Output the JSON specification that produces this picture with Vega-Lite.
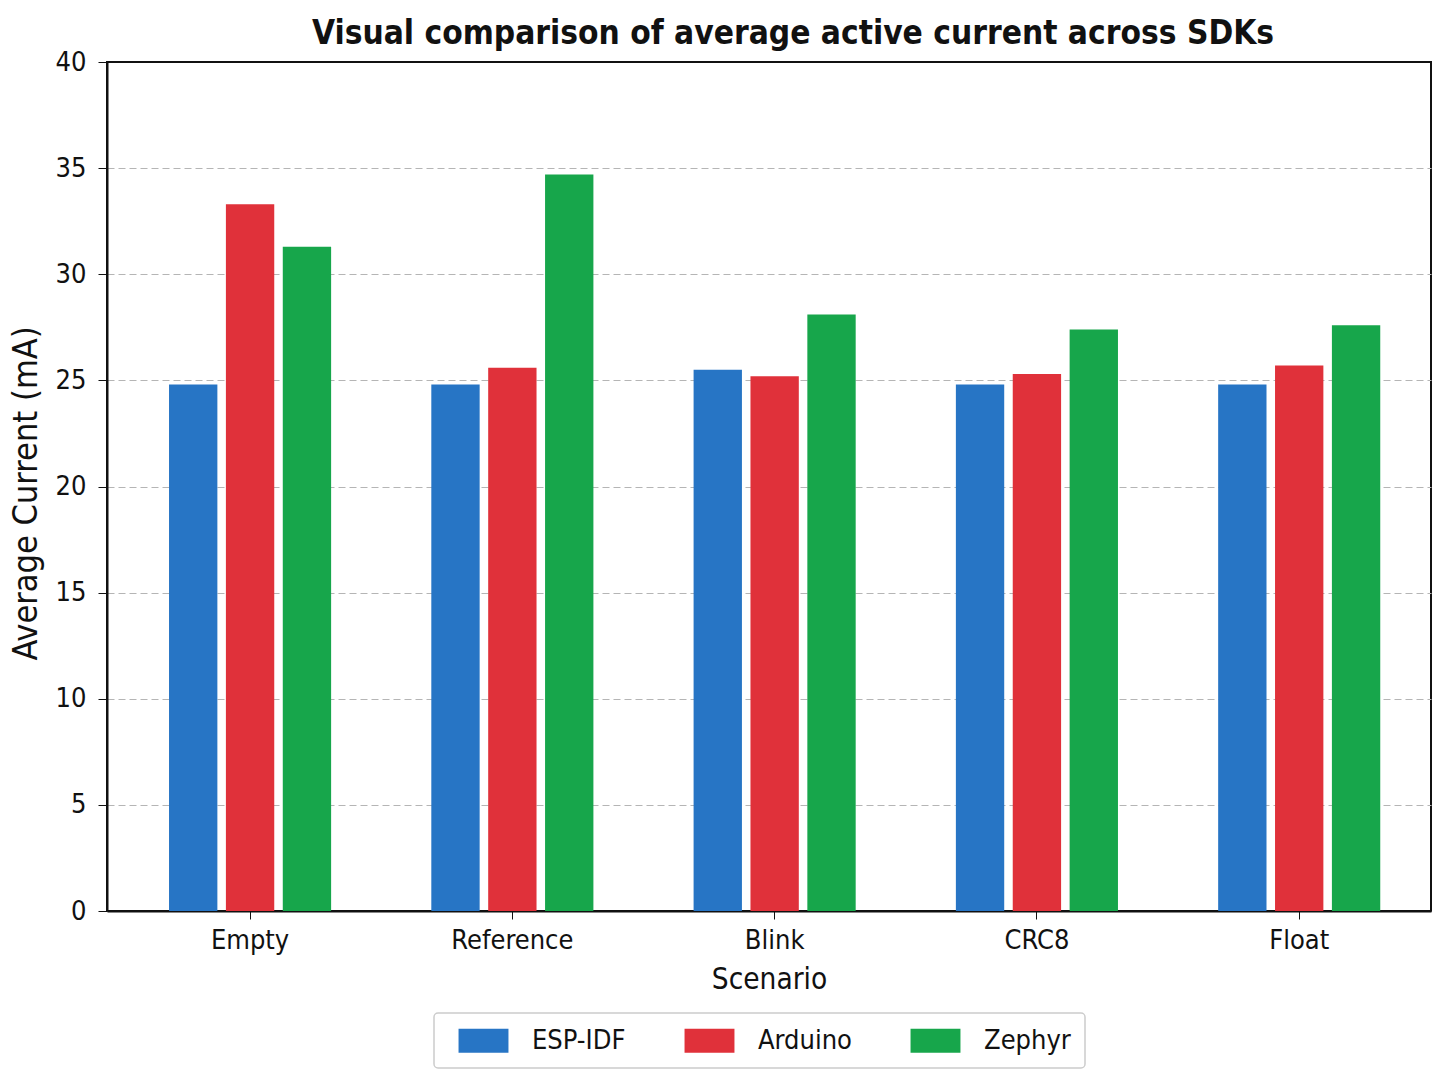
{
  "$schema": "https://vega.github.io/schema/vega-lite/v6.json",
  "autosize": {"type": "none"},
  "padding": {"left": 107, "top": 62, "right": 17, "bottom": 175},
  "width": 1324,
  "height": 849,
  "background": "white",
  "title": {
    "text": "Visual comparison of average active current across SDKs",
    "font": "DejaVu Sans Condensed, Roboto Condensed, Roboto, sans-serif",
    "fontSize": 33.2,
    "fontWeight": "bold",
    "color": "#111111",
    "anchor": "middle",
    "dx": 24,
    "offset": -3
  },
  "data": {
    "values": [
      {"Scenario": "Empty", "SDK": "ESP-IDF", "Current": 24.8},
      {"Scenario": "Empty", "SDK": "Arduino", "Current": 33.3},
      {"Scenario": "Empty", "SDK": "Zephyr", "Current": 31.3},
      {"Scenario": "Reference", "SDK": "ESP-IDF", "Current": 24.8},
      {"Scenario": "Reference", "SDK": "Arduino", "Current": 25.6},
      {"Scenario": "Reference", "SDK": "Zephyr", "Current": 34.7},
      {"Scenario": "Blink", "SDK": "ESP-IDF", "Current": 25.5},
      {"Scenario": "Blink", "SDK": "Arduino", "Current": 25.2},
      {"Scenario": "Blink", "SDK": "Zephyr", "Current": 28.1},
      {"Scenario": "CRC8", "SDK": "ESP-IDF", "Current": 24.8},
      {"Scenario": "CRC8", "SDK": "Arduino", "Current": 25.3},
      {"Scenario": "CRC8", "SDK": "Zephyr", "Current": 27.4},
      {"Scenario": "Float", "SDK": "ESP-IDF", "Current": 24.8},
      {"Scenario": "Float", "SDK": "Arduino", "Current": 25.7},
      {"Scenario": "Float", "SDK": "Zephyr", "Current": 27.6}
    ]
  },
  "mark": {"type": "bar"},
  "encoding": {
    "x": {
      "field": "Scenario",
      "type": "nominal",
      "sort": ["Empty", "Reference", "Blink", "CRC8", "Float"],
      "scale": {"paddingInner": 0.382, "paddingOuter": 0.215, "align": 0.55},
      "axis": {
        "title": "Scenario",
        "labelAngle": 0,
        "labelFont": "DejaVu Sans Condensed, Roboto Condensed, Roboto, sans-serif",
        "labelFontSize": 27,
        "labelColor": "#111111",
        "labelPadding": 8,
        "titleFont": "DejaVu Sans Condensed, Roboto Condensed, Roboto, sans-serif",
        "titleFontSize": 29.5,
        "titleFontWeight": "normal",
        "titleColor": "#111111",
        "titlePadding": 12,
        "tickSize": 8,
        "tickColor": "#111111",
        "domainColor": "#111111",
        "domainWidth": 2,
        "grid": false
      }
    },
    "xOffset": {
      "field": "SDK",
      "type": "nominal",
      "sort": ["ESP-IDF", "Arduino", "Zephyr"],
      "scale": {"paddingInner": 0.15, "paddingOuter": 0}
    },
    "y": {
      "field": "Current",
      "type": "quantitative",
      "scale": {"domain": [0, 40], "nice": false},
      "axis": {
        "title": "Average Current (mA)",
        "values": [0, 5, 10, 15, 20, 25, 30, 35, 40],
        "labelFont": "DejaVu Sans Condensed, Roboto Condensed, Roboto, sans-serif",
        "labelFontSize": 27,
        "labelColor": "#111111",
        "labelPadding": 12,
        "titleFont": "DejaVu Sans Condensed, Roboto Condensed, Roboto, sans-serif",
        "titleFontSize": 34,
        "titleFontWeight": "normal",
        "titleColor": "#111111",
        "titlePadding": 12,
        "titleY": 431,
        "tickSize": 9,
        "tickColor": "#111111",
        "domainColor": "#111111",
        "domainWidth": 2,
        "grid": true,
        "gridColor": {"condition": {"test": "datum.value === 40", "value": "transparent"}, "value": "#b5b5b5"},
        "gridDash": [7, 4],
        "gridWidth": 1.2
      }
    },
    "color": {
      "field": "SDK",
      "type": "nominal",
      "sort": ["ESP-IDF", "Arduino", "Zephyr"],
      "scale": {"domain": ["ESP-IDF", "Arduino", "Zephyr"], "range": ["#2775c5", "#e0313a", "#17a64b"]},
      "legend": {
        "title": null,
        "orient": "none",
        "direction": "horizontal",
        "legendX": 327,
        "legendY": 951,
        "symbolType": "M-2.08,-1H2.08V1H-2.08Z",
        "symbolSize": 576,
        "symbolStrokeWidth": 0,
        "symbolOffset": 22,
        "labelFont": "DejaVu Sans Condensed, Roboto Condensed, Roboto, sans-serif",
        "labelFontSize": 27,
        "labelColor": "#111111",
        "labelOffset": 35,
        "columnPadding": 48,
        "padding": 14,
        "strokeColor": "#cccccc",
        "fillColor": "white",
        "cornerRadius": 4
      }
    }
  },
  "config": {
    "view": {"stroke": "#111111", "strokeWidth": 2},
    "legend": {"strokeWidth": 1.5}
  }
}
